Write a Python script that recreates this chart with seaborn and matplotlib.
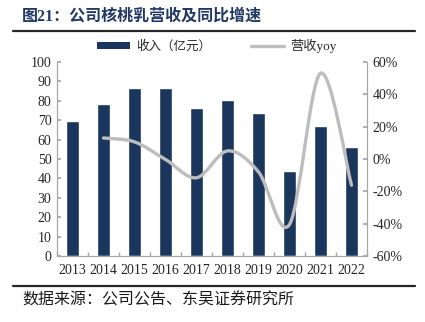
import numpy as np
import pandas as pd
import matplotlib
matplotlib.use("Agg")
import matplotlib.pyplot as plt
import seaborn as sns
from matplotlib.path import Path
from matplotlib.patches import PathPatch, Patch
from matplotlib.lines import Line2D

years = ["2013", "2014", "2015", "2016", "2017", "2018", "2019", "2020", "2021", "2022"]
revenue = [69.4, 78.4, 86.7, 86.4, 76.4, 80.2, 73.8, 43.9, 67.2, 56.3]
yoy_years = ["2014", "2015", "2016", "2017", "2018", "2019", "2020", "2021", "2022"]
yoy = [13.0, 10.6, -0.3, -11.6, 5.0, -8.0, -40.5, 53.0, -16.2]
left_ticks = [0, 10, 20, 30, 40, 50, 60, 70, 80, 90, 100]
right_ticks = [-60, -40, -20, 0, 20, 40, 60]

title = "图21：公司核桃乳营收及同比增速"
source = "数据来源：公司公告、东吴证券研究所"
bar_label = "收入（亿元）"
line_label = "营收yoy"

bar_color = "#1B365D"
line_color = "#BDBDBD"
spine_color = "#A6A6A6"
cjk = ["Noto Sans CJK SC", "DejaVu Sans"]
serif = ["Liberation Serif", "Noto Sans CJK SC"]

sns.set_theme(style="white")
plt.rcParams["font.family"] = serif

fig = plt.figure(figsize=(4.25, 3.22), dpi=100)
ax = fig.add_axes([57 / 425, 1 - 256 / 322, (367 - 57) / 425, (256 - 62) / 322])

df = pd.DataFrame({"year": years, "revenue": revenue})
sns.barplot(data=df, x="year", y="revenue", color=bar_color, saturation=1,
            width=0.4, ax=ax)
ax.set_xlim(-0.5, len(years) - 0.5)
ax.set_ylim(0, 100)
ax.set_yticks(left_ticks)
ax.set_xlabel("")
ax.set_ylabel("")
ax.set_xticks(np.arange(len(years) + 1) - 0.5, minor=True)
ax.set_xticks(np.arange(len(years)))
ax.set_xticklabels(years)
ax.tick_params(axis="x", which="major", length=0, labelsize=10, pad=6)
ax.tick_params(axis="x", which="minor", direction="in", length=3, color=spine_color, bottom=True)
ax.tick_params(axis="y", direction="in", length=3, color=spine_color, labelsize=10, left=True, pad=4)
ax.spines["top"].set_visible(False)
for s in ["left", "bottom", "right"]:
    ax.spines[s].set_color(spine_color)
    ax.spines[s].set_linewidth(0.8)

ax2 = ax.twinx()
ax2.set_ylim(-60, 60)
ax2.set_yticks(right_ticks)
ax2.set_yticklabels([f"{t}%" for t in right_ticks])
ax2.tick_params(axis="y", direction="in", length=3, color=spine_color, labelsize=10, right=True, pad=4)
ax2.spines["top"].set_visible(False)
for s in ["left", "bottom", "right"]:
    ax2.spines[s].set_color(spine_color)
    ax2.spines[s].set_linewidth(0.8)
ax2.grid(False)
ax.grid(False)

# smooth curve through the yoy points (Catmull-Rom rendered as cubic Bezier)
xs = np.array([years.index(y) for y in yoy_years], dtype=float)
ys = np.array(yoy, dtype=float)
pts = np.column_stack([xs, ys])
verts = [tuple(pts[0])]
codes = [Path.MOVETO]
n = len(pts)
for i in range(n - 1):
    p0 = pts[i - 1] if i > 0 else pts[i]
    p1 = pts[i]
    p2 = pts[i + 1]
    p3 = pts[i + 2] if i + 2 < n else pts[i + 1]
    c1 = p1 + (p2 - p0) / 6.0
    c2 = p2 - (p3 - p1) / 6.0
    verts += [tuple(c1), tuple(c2), tuple(p2)]
    codes += [Path.CURVE4] * 3
ax2.add_patch(PathPatch(Path(verts, codes), facecolor="none", edgecolor=line_color,
                        lw=2.4, capstyle="round", joinstyle="round"))

# legend
handles = [Patch(facecolor=bar_color, edgecolor="none"),
           Line2D([], [], color=line_color, lw=2.4)]
leg = fig.legend(handles, [bar_label, line_label], loc="center", bbox_to_anchor=(0.51, 1 - 46 / 322),
                 ncol=2, frameon=False, prop={"family": cjk, "size": 9},
                 handlelength=2.6, handleheight=0.45, columnspacing=3.2, handletextpad=0.5)
leg.get_texts()[1].set_family(serif)
leg.get_texts()[1].set_fontsize(9.5)

# title, rules, source
fig.text(22 / 425, 1 - 17 / 322, title, family=serif, fontsize=11.5, fontweight="bold",
         color="#1F3864", va="center", ha="left")
fig.add_artist(Line2D([13 / 425, 415 / 425], [1 - 31 / 322] * 2, color="#262626", lw=1.6))
fig.add_artist(Line2D([13 / 425, 415 / 425], [1 - 286 / 322] * 2, color="#262626", lw=1.6))
fig.text(22 / 425, 1 - 300 / 322, source, family=cjk, fontsize=11.5, color="#1a1a1a",
         va="center", ha="left")

fig.savefig("out.png", dpi=100, facecolor="white")
